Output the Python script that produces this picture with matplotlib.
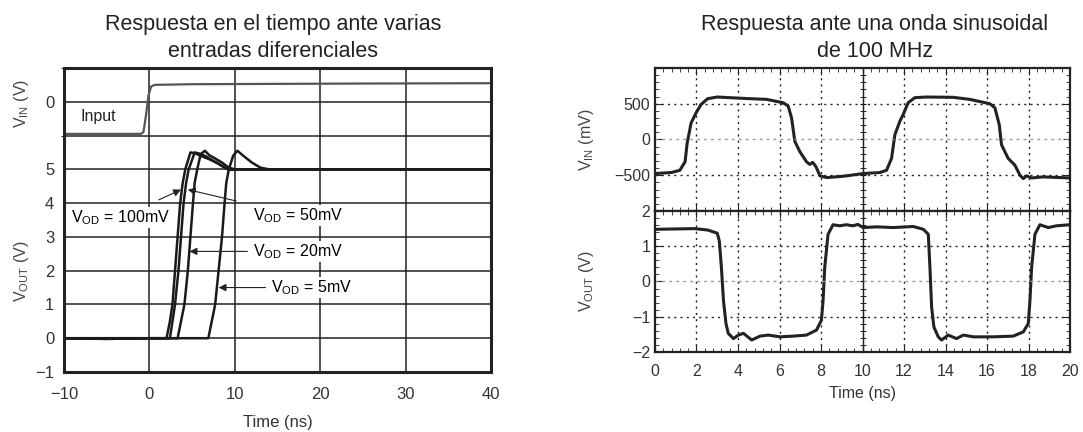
import numpy as np
import matplotlib
matplotlib.use("Agg")
from matplotlib import pyplot as plt
from matplotlib.ticker import MultipleLocator

plt.rcParams['font.family'] = ['Liberation Sans', 'DejaVu Sans']
plt.rcParams['mathtext.fontset'] = 'custom'
plt.rcParams['mathtext.rm'] = 'Liberation Sans'
plt.rcParams['mathtext.it'] = 'Liberation Sans:italic'

# ---- left chart: step response for several overdrives (V_OUT units, input drawn on top band)
t_input = [-10, -1.0, -0.7, -0.4, -0.1, 0.2, 0.6, 5, 15, 25, 40]
v_input = [6.05, 6.05, 6.1, 6.6, 7.2, 7.45, 7.5, 7.52, 7.53, 7.54, 7.55]

t_100 = [-10, -5, 0, 2.0, 2.4, 2.7, 3.0, 3.3, 3.6, 3.9, 4.2, 4.8, 5.3, 6.0, 7.0, 8.0, 9.0, 9.6, 15, 25, 40]
v_100 = [0, -0.02, 0, 0, 0.5, 1.0, 2.0, 3.0, 4.0, 4.6, 5.0, 5.5, 5.48, 5.4, 5.3, 5.18, 5.02, 5.0, 5.0, 5.0, 5.0]
t_50 = [-10, -5, 0, 2.4, 2.7, 3.0, 3.4, 3.7, 4.0, 4.3, 4.6, 5.3, 5.8, 6.5, 7.5, 8.5, 9.3, 10, 15, 25, 40]
v_50 = [0, 0, 0, 0, 0.5, 1.0, 2.0, 3.0, 4.0, 4.6, 5.0, 5.5, 5.47, 5.4, 5.25, 5.1, 4.98, 5.0, 5.0, 5.0, 5.0]
t_20 = [-10, -5, 0, 3.3, 3.7, 4.1, 4.5, 4.8, 5.1, 5.3, 5.6, 6.0, 6.5, 7.0, 7.5, 8.5, 9.3, 10, 15, 25, 40]
v_20 = [0, 0, 0, 0, 0.5, 1.0, 2.0, 3.0, 4.0, 4.6, 5.0, 5.45, 5.55, 5.42, 5.35, 5.2, 5.05, 5.0, 5.0, 5.0, 5.0]
t_5 = [-10, -5, 0, 5, 6.9, 7.3, 7.7, 8.1, 8.5, 8.8, 9.0, 9.3, 9.8, 10.3, 11.0, 12.0, 13.0, 14.0, 20, 30, 40]
v_5 = [0, -0.02, 0, 0, 0, 0.5, 1.0, 2.0, 3.0, 4.0, 4.6, 5.0, 5.4, 5.55, 5.4, 5.2, 5.05, 5.0, 5.0, 5.0, 5.0]

left_xticks = [-10, 0, 10, 20, 30, 40]
left_xlabels = ['\u221210', '0', '10', '20', '30', '40']
left_yticks = [-1, 0, 1, 2, 3, 4, 5, 7]
left_ylabels = ['\u22121', '0', '1', '2', '3', '4', '5', '0']

# ---- right chart: 100 MHz sine input and comparator output
t_vin = [0.0, 0.8, 1.2, 1.45, 1.55, 1.74, 1.98, 2.22, 2.54, 3.0, 4.26, 5.38, 6.18, 6.42, 6.58, 6.74,
         6.98, 7.3, 7.46, 7.6, 7.76, 7.95, 8.27, 9.08, 10.04, 10.84, 11.16, 11.4, 11.56, 11.8, 11.96,
         12.2, 12.52, 13.08, 14.37, 15.17, 16.14, 16.38, 16.59, 16.7, 17.02, 17.34, 17.59, 17.75,
         17.91, 18.15, 18.71, 20.0]
v_vin = [-476, -462, -430, -311, -52, 231, 373, 490, 571, 594, 575, 561, 514, 467, 302, -28,
         -170, -311, -349, -320, -382, -509, -533, -514, -476, -462, -430, -264, 66, 255, 349,
         514, 585, 594, 590, 561, 500, 443, 208, -75, -264, -358, -500, -547,
         -509, -538, -523, -538]

t_vout = [0.0, 1.9, 2.54, 3.0, 3.1, 3.2, 3.3, 3.42, 3.53, 3.78, 4.02, 4.26, 4.66, 5.06, 5.46, 6.02,
          6.66, 7.3, 7.78, 8.02, 8.1, 8.18, 8.34, 8.58, 8.9, 9.22, 9.54, 9.78, 10.02, 10.68, 11.48,
          12.45, 12.93, 13.17, 13.25, 13.33, 13.44, 13.65, 13.81, 14.13, 14.53, 14.86, 15.34, 16.3,
          17.26, 17.75, 17.99, 18.07, 18.15, 18.31, 18.55, 18.95, 19.35, 20.0]
v_vout = [1.48, 1.50, 1.46, 1.37, 1.15, 0.40, -0.54, -1.19, -1.47, -1.62, -1.52, -1.47, -1.66, -1.55,
          -1.52, -1.57, -1.55, -1.52, -1.38, -1.10, -0.54, 0.40, 1.34, 1.61, 1.58, 1.61, 1.58, 1.62,
          1.53, 1.55, 1.53, 1.56, 1.48, 1.34, 0.40, -0.72, -1.29, -1.57, -1.66, -1.52, -1.62, -1.52,
          -1.57, -1.57, -1.55, -1.43, -1.19, -0.54, 0.40, 1.34, 1.61, 1.53, 1.58, 1.61]

right_xticks = list(range(0, 21, 2))

fig = plt.figure(figsize=(10.83, 4.32), dpi=100)

# ---------------- left
ax = fig.add_axes([0.0591, 0.1389, 0.3943, 0.7037])
ax.plot(t_input, v_input, color='#555555', lw=1.6)
for t, v in [(t_100, v_100), (t_50, v_50), (t_20, v_20), (t_5, v_5)]:
    ax.plot(t, v, color='#1a1a1a', lw=1.8)
ax.set_xlim(-10, 40)
ax.set_ylim(-1, 8)
ax.set_xticks(left_xticks)
ax.set_xticklabels(left_xlabels)
ax.set_yticks(left_yticks)
ax.set_yticklabels(left_ylabels)
ax.yaxis.set_minor_locator(MultipleLocator(1))
ax.grid(True, which='both', color='#222222', lw=1.1)
ax.tick_params(length=0, labelsize=12, colors='#333333')
ax.tick_params(axis='x', pad=11)
ax.tick_params(axis='y', pad=7)
for s in ax.spines.values():
    s.set_linewidth(2.2)
    s.set_color('#222222')
ax.set_xlabel('Time (ns)', fontsize=12, color='#333333', labelpad=9)
ax.text(-0.1, 0.885, r'$\mathrm{V_{IN}}$ (V)', transform=ax.transAxes, rotation=90,
        ha='center', va='center', fontsize=11.5, color='#444444')
ax.text(-0.1, 0.332, r'$\mathrm{V_{OUT}}$ (V)', transform=ax.transAxes, rotation=90,
        ha='center', va='center', fontsize=11.5, color='#444444')
ax.text(-8.1, 6.55, 'Input', fontsize=11.5, color='#222222', va='center')

arrow = dict(arrowstyle='-|>', color='#222222', lw=0.8, mutation_scale=11)
ax.annotate(r'$\mathrm{V_{OD}}$ = 100mV', xy=(3.7, 4.4), xytext=(-3.4, 3.57), fontsize=11.5,
            ha='center', va='center', arrowprops=dict(arrow, shrinkA=12, shrinkB=0),
            bbox=dict(fc='white', ec='none', pad=1))
ax.annotate(r'$\mathrm{V_{OD}}$ = 50mV', xy=(4.5, 4.4), xytext=(17.4, 3.63), fontsize=11.5,
            ha='center', va='center', arrowprops=dict(arrow, shrinkA=12, shrinkB=0),
            bbox=dict(fc='white', ec='none', pad=1))
ax.annotate(r'$\mathrm{V_{OD}}$ = 20mV', xy=(4.7, 2.57), xytext=(17.4, 2.57), fontsize=11.5,
            ha='center', va='center', arrowprops=dict(arrow, shrinkA=3, shrinkB=0),
            bbox=dict(fc='white', ec='none', pad=1))
ax.annotate(r'$\mathrm{V_{OD}}$ = 5mV', xy=(8.1, 1.5), xytext=(19.0, 1.5), fontsize=11.5,
            ha='center', va='center', arrowprops=dict(arrow, shrinkA=3, shrinkB=0),
            bbox=dict(fc='white', ec='none', pad=1))
ax.set_title('Respuesta en el tiempo ante varias\nentradas diferenciales', fontsize=15.5,
             color='#222222', pad=8, x=0.49, linespacing=1.35)

# ---------------- right
ax_top = fig.add_axes([0.6048, 0.5116, 0.3832, 0.3310])
ax_bot = fig.add_axes([0.6048, 0.1852, 0.3832, 0.3264], sharex=ax_top)

ax_top.plot(t_vin, v_vin, color='#222222', lw=2.2)
ax_bot.plot(t_vout, v_vout, color='#222222', lw=2.2)

ax_top.set_ylim(-1000, 1000)
ax_top.set_yticks([-500, 0, 500])
ax_top.set_yticklabels(['\u2212500', '0', '500'])
ax_top.yaxis.set_minor_locator(MultipleLocator(100))
ax_bot.set_ylim(-2, 2)
ax_bot.set_yticks([-2, -1, 0, 1, 2])
ax_bot.set_yticklabels(['\u22122', '\u22121', '0', '1', '2'])
ax_bot.yaxis.set_minor_locator(MultipleLocator(0.2))
ax_bot.set_xlim(0, 20)
ax_bot.set_xticks(right_xticks)
ax_bot.xaxis.set_minor_locator(MultipleLocator(0.4))

for a in (ax_top, ax_bot):
    a.tick_params(which='both', direction='in', top=True, right=True, labelsize=11.5,
                  colors='#222222', labelcolor='#333333')
    a.tick_params(which='major', length=5)
    a.tick_params(which='minor', length=3)
    a.tick_params(axis='x', pad=9)
    for s in a.spines.values():
        s.set_linewidth(1.6)
        s.set_color('#222222')
    for x in right_xticks[1:-1]:
        if x != 10:
            a.axvline(x, color='#222222', lw=1.0, ls=(0, (1.5, 3)))
    a.axvline(10, color='#222222', lw=1.0)
    sec = a.secondary_yaxis(0.5)
    sec.set_yticks(a.get_yticks())
    sec.yaxis.set_minor_locator(a.yaxis.get_minor_locator())
    sec.tick_params(which='both', direction='inout', labelleft=False, length=5)
    sec.tick_params(which='minor', length=4)
    sec.spines['left'].set_visible(False)
    sec.set_yticklabels([])

for y in (-500, 500):
    ax_top.axhline(y, color='#222222', lw=1.0, ls=(0, (1.5, 3)))
ax_top.axhline(0, color='#999999', lw=1.0, ls=(0, (2, 3)))
for y in (-1, 1):
    ax_bot.axhline(y, color='#222222', lw=1.0, ls=(0, (1.5, 3)))
ax_bot.axhline(0, color='#999999', lw=1.0, ls=(0, (2, 3)))

ax_top.tick_params(labelbottom=False)
ax_top.set_ylabel(r'$\mathrm{V_{IN}}$ (mV)', fontsize=11.5, color='#444444')
ax_bot.set_ylabel(r'$\mathrm{V_{OUT}}$ (V)', fontsize=11.5, color='#444444')
ax_top.yaxis.set_label_coords(-0.142, 0.5)
ax_bot.yaxis.set_label_coords(-0.142, 0.5)
ax_bot.set_xlabel('Time (ns)', fontsize=11.5, color='#333333', labelpad=5)
ax_top.set_title('Respuesta ante una onda sinusoidal\nde 100 MHz', fontsize=15.5,
                 color='#222222', pad=8, x=0.53, linespacing=1.35)

fig.savefig('out.png', dpi=100)
